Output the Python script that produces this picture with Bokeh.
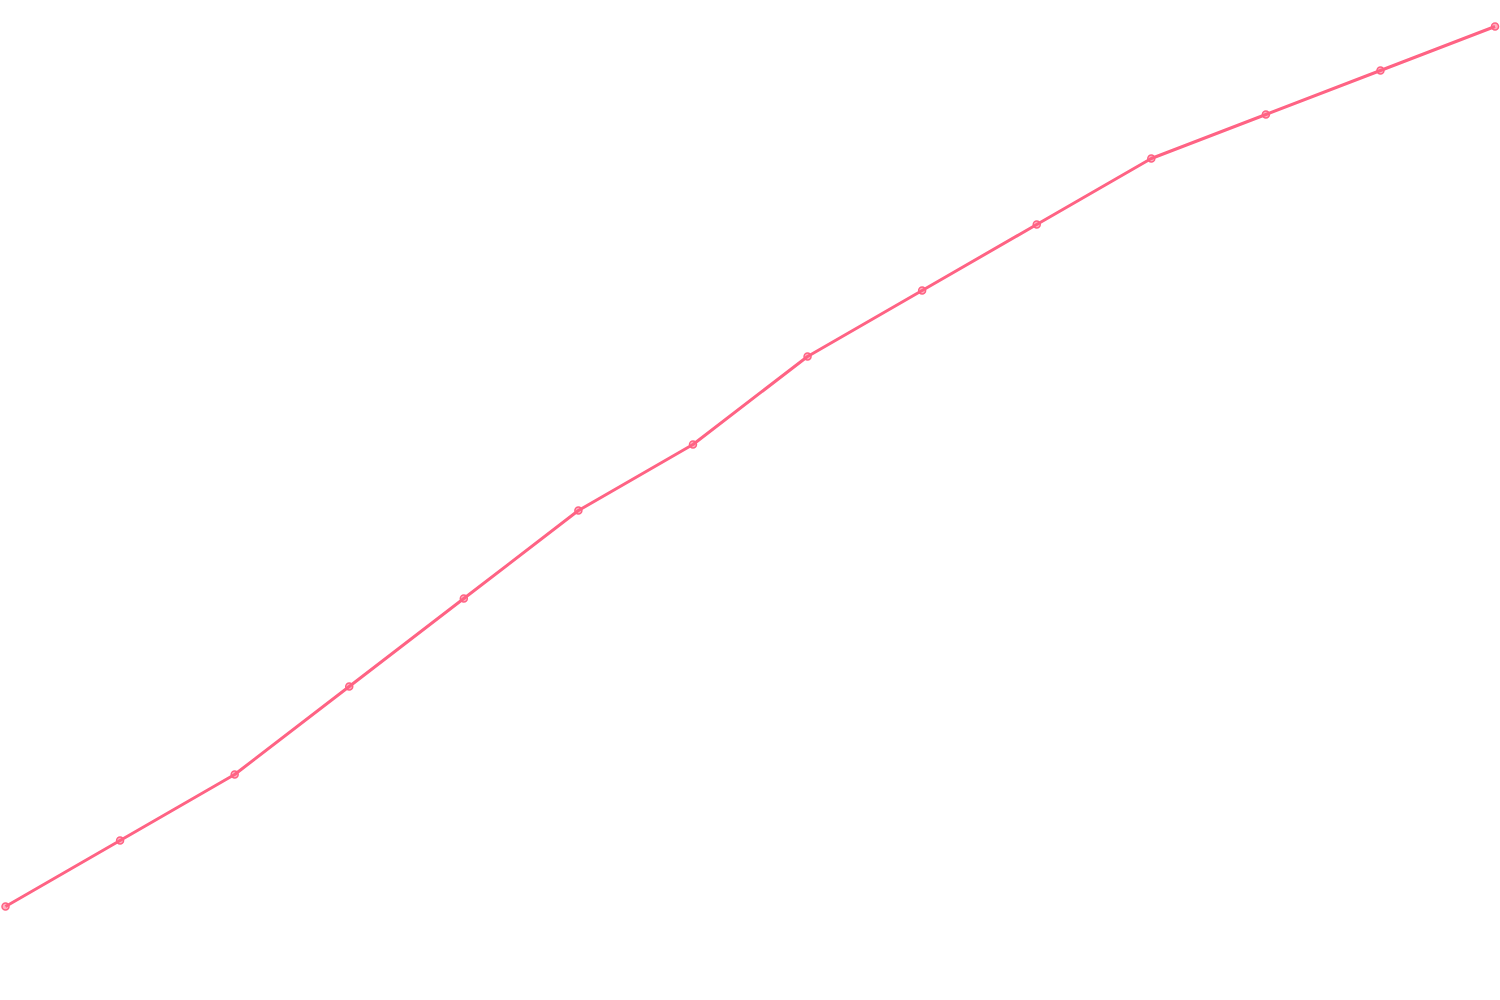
from bokeh.embed import file_html
from bokeh.models import ColumnDataSource, Range1d
from bokeh.plotting import figure
from bokeh.resources import INLINE

# data
steps = list(range(14))
values = [10, 13, 16, 20, 24, 28, 31, 35, 38, 41, 44, 46, 48, 50]

pink = "#ff6384"

source = ColumnDataSource(data={'x': steps, 'y': values})

# pixel mapping: 114.58 px per step, 22 px per unit
W, H = 1500, 992
px_x = 114.58
px_y = 22.0
x0 = -5 / px_x
y_top = values[-1] + 26 / px_y
y_bot = y_top - H / px_y

p = figure(width=W, height=H, output_backend="svg", toolbar_location=None,
           x_range=Range1d(x0, x0 + W / px_x), y_range=Range1d(y_bot, y_top),
           min_border=0)

p.line('x', 'y', source=source, line_color=pink, line_width=3)
p.scatter('x', 'y', source=source, size=7, fill_color=pink, fill_alpha=0.5,
          line_color=pink, line_width=1.5)

p.axis.visible = False
p.grid.grid_line_color = None
p.outline_line_color = None
p.background_fill_color = "white"
p.border_fill_color = "white"

open("out.html", "w").write(file_html(p, INLINE))
